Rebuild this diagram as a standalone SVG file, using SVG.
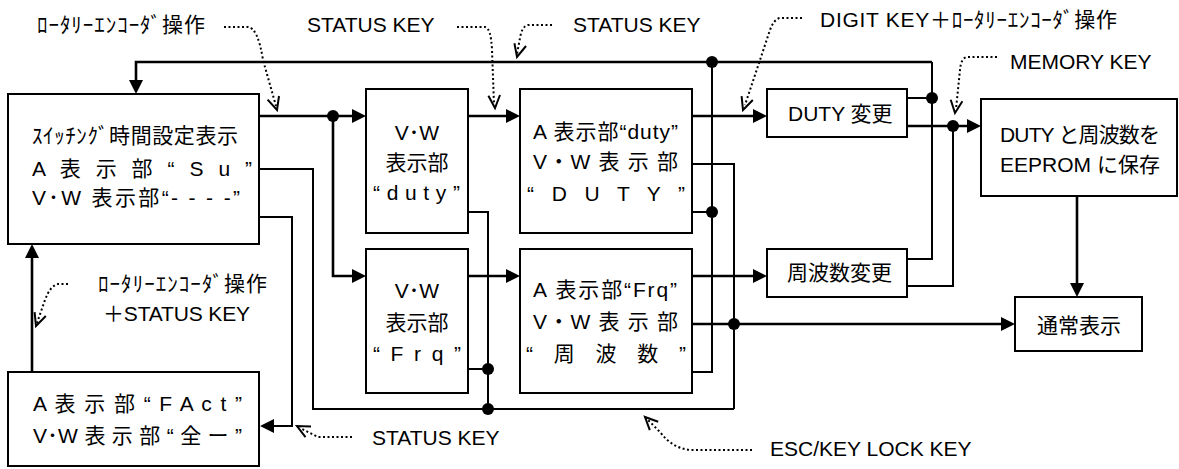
<svg xmlns="http://www.w3.org/2000/svg" width="1179" height="469" viewBox="0 0 1179 469">
<style>
.box{fill:#fff;stroke:#000;stroke-width:2}
.thick{fill:none;stroke:#000;stroke-width:2.6}
.thin{fill:none;stroke:#000;stroke-width:2}
.dot{fill:none;stroke:#000;stroke-width:2;stroke-dasharray:2 2.5}
.vh{fill:none;stroke:#000;stroke-width:2;stroke-linejoin:miter}
.ah{fill:#000;stroke:none}
.jn{fill:#000}
text{font-family:"Liberation Sans","Noto Sans CJK JP",sans-serif;font-size:21px;fill:#000}
</style>
<g id="connectors">
<path class="thick" d="M259,116 H352"/>
<path class="thick" d="M333,116 V276 H352"/>
<path class="thick" d="M468,116 H506"/>
<path class="thick" d="M468,276 H506"/>
<path class="thick" d="M692,116 H753"/>
<path class="thick" d="M692,276 H753"/>
<path class="thick" d="M907,126 H967"/>
<path class="thick" d="M1077,196 V283"/>
<path class="thick" d="M692,324 H1001"/>
<path class="thick" d="M32,372 V258"/>
<path class="thick" d="M932,62 H136 V80"/>
<path class="thin" d="M259,169 H313 V409 H734"/>
<path class="thin" d="M259,217 H292 V426 H274"/>
<path class="thin" d="M468,212 H488 V409"/>
<path class="thin" d="M468,369 H488"/>
<path class="thin" d="M692,164 H734 V409"/>
<path class="thin" d="M692,212 H712"/>
<path class="thin" d="M712,62 V372 H692"/>
<path class="thin" d="M907,98 H932"/>
<path class="thin" d="M932,62 V259 H907"/>
<path class="thin" d="M907,286 H953 V126"/>
<polygon class="ah" points="352,109 366,116 352,123"/>
<polygon class="ah" points="352,269 366,276 352,283"/>
<polygon class="ah" points="506,109 520,116 506,123"/>
<polygon class="ah" points="506,269 520,276 506,283"/>
<polygon class="ah" points="753,109 767,116 753,123"/>
<polygon class="ah" points="753,269 767,276 753,283"/>
<polygon class="ah" points="967,119 981,126 967,133"/>
<polygon class="ah" points="1070,283 1077,297 1084,283"/>
<polygon class="ah" points="1001,317 1015,324 1001,331"/>
<polygon class="ah" points="25,258 32,244 39,258"/>
<polygon class="ah" points="129,80 136,94 143,80"/>
<polygon class="ah" points="274,419 260,426 274,433"/>
<circle class="jn" cx="333" cy="116" r="6"/>
<circle class="jn" cx="488" cy="369" r="6"/>
<circle class="jn" cx="488" cy="409" r="6"/>
<circle class="jn" cx="712" cy="62" r="6"/>
<circle class="jn" cx="712" cy="212" r="6"/>
<circle class="jn" cx="734" cy="324" r="6"/>
<circle class="jn" cx="932" cy="98" r="6"/>
<circle class="jn" cx="953" cy="126" r="6"/>
</g>
<g id="pointers">
<path class="dot" d="M224,27 H248 Q258,28 263,60 L276,106"/>
<polyline class="vh" points="267.6,99.7 277,110 279,96"/>
<path class="dot" d="M457,27 H485 Q491,28 492,50 L494,104"/>
<polyline class="vh" points="488.4,95.7 495,108 500,95"/>
<path class="dot" d="M552,25 H528 Q522,26 520,38 L517,54"/>
<polyline class="vh" points="514.4,43.2 517,57 526,46"/>
<path class="dot" d="M802,18 H780 Q774,19 770,30 L745,105"/>
<polyline class="vh" points="741.6,96.1 743,110 752.8,100"/>
<path class="dot" d="M997,57 H967 Q961,58 960,70 L956,109"/>
<polyline class="vh" points="950.7,99.7 955,113 962.4,101.2"/>
<path class="dot" d="M352,437 H318 L300,428"/>
<polyline class="vh" points="305.5,437.1 297,426 311,426.6"/>
<path class="dot" d="M752,450 H690 Q672,448 660,432 L648,420"/>
<polyline class="vh" points="649.8,430.2 645,417 658.2,421.8"/>
<path class="dot" d="M68,284 H58 Q50,286 45,300 L37,323"/>
<polyline class="vh" points="34.6,312.1 36,326 45.8,316"/>
</g>
<g id="labels">
<text x="37" y="32" textLength="168">ﾛｰﾀﾘｰｴﾝｺｰﾀﾞ操作</text>
<text x="307" y="32">STATUS KEY</text>
<text x="573" y="32">STATUS KEY</text>
<text x="820" y="27" textLength="297">DIGIT KEY＋ﾛｰﾀﾘｰｴﾝｺｰﾀﾞ操作</text>
<text x="1010" y="69">MEMORY KEY</text>
<text x="98" y="291" textLength="169">ﾛｰﾀﾘｰｴﾝｺｰﾀﾞ操作</text>
<text x="103" y="321" textLength="147">＋STATUS KEY</text>
<text x="372" y="445">STATUS KEY</text>
<text x="770" y="456">ESC/KEY LOCK KEY</text>
</g>
<g id="node-setting">
<rect class="box" x="8" y="94" width="251" height="150"/>
<text x="32" y="143" textLength="206">ｽｲｯﾁﾝｸﾞ時間設定表示</text>
<text x="32" y="176" textLength="220">A 表 示 部 “ S u ”</text>
<text x="32" y="205" textLength="208">V･W 表示部“- - - -”</text>
</g>
<g id="node-fact">
<rect class="box" x="8" y="372" width="251" height="94"/>
<text x="33" y="411" textLength="209">A 表 示 部 “ F A c t ”</text>
<text x="33" y="443" textLength="209">V･W 表 示 部 “ 全 ー ”</text>
</g>
<g id="node-vw-duty">
<rect class="box" x="366" y="89" width="102" height="144"/>
<text x="417" y="140" text-anchor="middle">V･W</text>
<text x="417" y="170" text-anchor="middle">表示部</text>
<text x="373" y="200" textLength="87">“ d u t y ”</text>
</g>
<g id="node-vw-frq">
<rect class="box" x="366" y="249" width="102" height="144"/>
<text x="417" y="298" text-anchor="middle">V･W</text>
<text x="417" y="330" text-anchor="middle">表示部</text>
<text x="373" y="361" textLength="88">“ F r q ”</text>
</g>
<g id="node-a-duty">
<rect class="box" x="520" y="89" width="172" height="144"/>
<text x="533" y="139" textLength="145">A 表示部“duty”</text>
<text x="533" y="169" textLength="145">V・W 表 示 部</text>
<text x="527" y="201" textLength="158">“ D U T Y ”</text>
</g>
<g id="node-a-frq">
<rect class="box" x="520" y="249" width="172" height="144"/>
<text x="533" y="297" textLength="144">A 表示部“Frq”</text>
<text x="533" y="329" textLength="145">V・W 表 示 部</text>
<text x="526" y="361" textLength="160">“ 周 波 数 ”</text>
</g>
<g id="node-duty-change">
<rect class="box" x="767" y="89" width="140" height="48"/>
<text x="788" y="121">DUTY 変更</text>
</g>
<g id="node-frq-change">
<rect class="box" x="767" y="249" width="140" height="48"/>
<text x="787" y="280">周波数変更</text>
</g>
<g id="node-eeprom">
<rect class="box" x="981" y="99" width="196" height="97"/>
<text x="1000" y="142" textLength="160">DUTY と周波数を</text>
<text x="1000" y="172" textLength="160">EEPROM に保存</text>
</g>
<g id="node-normal">
<rect class="box" x="1015" y="297" width="127" height="54"/>
<text x="1037" y="333">通常表示</text>
</g>
</svg>
